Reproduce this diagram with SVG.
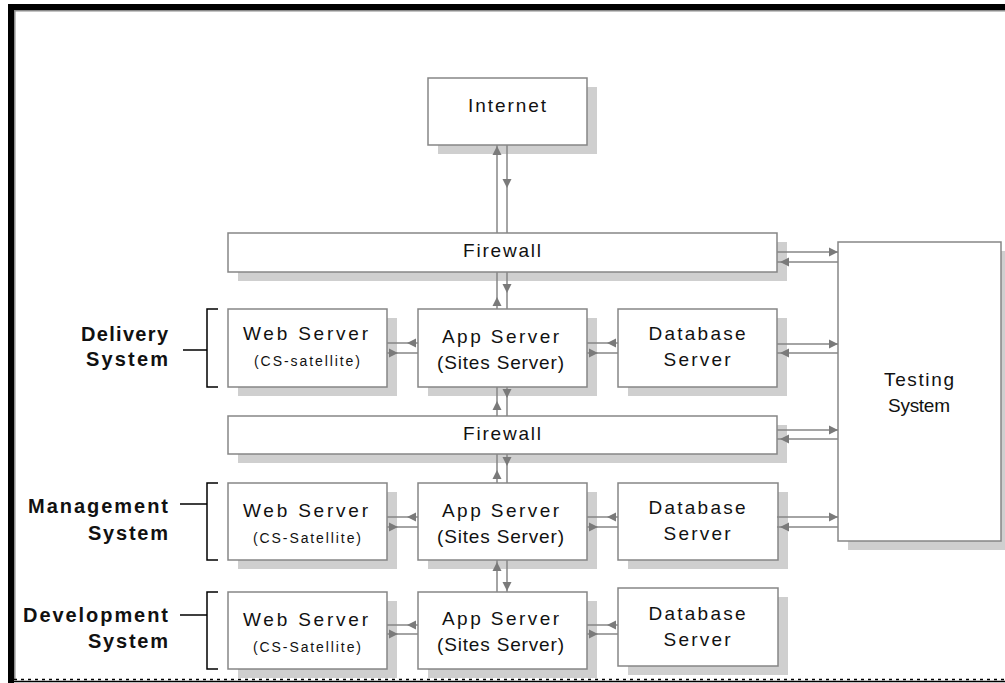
<svg xmlns="http://www.w3.org/2000/svg" xmlns:xlink="http://www.w3.org/1999/xlink" width="1005" height="683" viewBox="0 0 1005 683">
<style>
.box{fill:#fff;stroke:#868686;stroke-width:1.5}
.sh{fill:#cfcfcf}
.t{font-family:"Liberation Sans",Arial,sans-serif;font-size:19px;fill:#111;text-anchor:middle}
.s{font-family:"Liberation Sans",Arial,sans-serif;font-size:14px;fill:#111;text-anchor:middle}
.b{font-family:"Liberation Sans",Arial,sans-serif;font-size:20px;font-weight:bold;fill:#111;text-anchor:end}
.ln{stroke:#868686;stroke-width:1.5;fill:none}
.br{stroke:#000;stroke-width:1.5;fill:none}
.ah{fill:#7a7a7a}
</style>
<defs>
<path id="ah" d="M0,0 L-9,-4.5 L-9,4.5 Z"/>
</defs>
<rect width="1005" height="683" fill="#fff"/>
<g id="frame">
<rect x="8" y="4" width="997" height="6" fill="#000"/>
<rect x="8" y="4" width="6" height="679" fill="#000"/>
<line x1="14" y1="10.8" x2="1005" y2="10.8" stroke="#8a8a8a" stroke-width="1.5"/>
<line x1="14.8" y1="10" x2="14.8" y2="680" stroke="#8a8a8a" stroke-width="1.5"/>
<line x1="14" y1="681.5" x2="1005" y2="681.5" stroke="#000" stroke-width="1.5"/>
<line x1="14" y1="679.5" x2="1005" y2="679.5" stroke="#000" stroke-width="1.5" stroke-dasharray="3 4"/>
</g>
<g id="internet"><rect class="sh" x="438" y="87" width="159" height="67"/><rect class="box" x="428" y="78" width="159" height="67"/><text class="t" x="507" y="112" textLength="78" lengthAdjust="spacing">Internet</text></g>
<g id="firewall1"><rect class="sh" x="238" y="242" width="549" height="39"/><rect class="box" x="228" y="233" width="549" height="39"/><text class="t" x="502" y="257" textLength="78" lengthAdjust="spacing">Firewall</text></g>
<g id="testing"><rect class="sh" x="848" y="251" width="163" height="299"/><rect class="box" x="838" y="242" width="163" height="299"/><text class="t" x="919" y="386" textLength="70" lengthAdjust="spacing">Testing</text><text class="t" x="919" y="412" textLength="62" lengthAdjust="spacing">System</text></g>
<g id="web1"><rect class="sh" x="238" y="318" width="159" height="78"/><rect class="box" x="228" y="309" width="159" height="78"/><text class="t" x="305.5" y="340" textLength="125" lengthAdjust="spacing">Web Server</text><text class="s" x="307" y="366" textLength="106" lengthAdjust="spacing">(CS-satellite)</text></g>
<g id="app1"><rect class="sh" x="428" y="318" width="169" height="78"/><rect class="box" x="418" y="309" width="169" height="78"/><text class="t" x="500.5" y="343" textLength="117" lengthAdjust="spacing">App Server</text><text class="t" x="500.5" y="369" textLength="127" lengthAdjust="spacing">(Sites Server)</text></g>
<g id="db1"><rect class="sh" x="628" y="318" width="159" height="78"/><rect class="box" x="618" y="309" width="159" height="78"/><text class="t" x="697" y="340" textLength="97" lengthAdjust="spacing">Database</text><text class="t" x="697" y="366" textLength="67" lengthAdjust="spacing">Server</text></g>
<g id="firewall2"><rect class="sh" x="238" y="425" width="549" height="38"/><rect class="box" x="228" y="416" width="549" height="38"/><text class="t" x="502" y="440" textLength="78" lengthAdjust="spacing">Firewall</text></g>
<g id="web2"><rect class="sh" x="238" y="492" width="159" height="77"/><rect class="box" x="228" y="483" width="159" height="77"/><text class="t" x="305.5" y="517" textLength="125" lengthAdjust="spacing">Web Server</text><text class="s" x="307" y="543" textLength="108" lengthAdjust="spacing">(CS-Satellite)</text></g>
<g id="app2"><rect class="sh" x="428" y="492" width="169" height="77"/><rect class="box" x="418" y="483" width="169" height="77"/><text class="t" x="500.5" y="517" textLength="117" lengthAdjust="spacing">App Server</text><text class="t" x="500.5" y="543" textLength="127" lengthAdjust="spacing">(Sites Server)</text></g>
<g id="db2"><rect class="sh" x="628" y="492" width="160" height="77"/><rect class="box" x="618" y="483" width="160" height="77"/><text class="t" x="697" y="514" textLength="97" lengthAdjust="spacing">Database</text><text class="t" x="697" y="540" textLength="67" lengthAdjust="spacing">Server</text></g>
<g id="web3"><rect class="sh" x="238" y="601" width="159" height="77"/><rect class="box" x="228" y="592" width="159" height="77"/><text class="t" x="305.5" y="626" textLength="125" lengthAdjust="spacing">Web Server</text><text class="s" x="307" y="652" textLength="108" lengthAdjust="spacing">(CS-Satellite)</text></g>
<g id="app3"><rect class="sh" x="428" y="601" width="169" height="77"/><rect class="box" x="418" y="592" width="169" height="77"/><text class="t" x="500.5" y="625" textLength="117" lengthAdjust="spacing">App Server</text><text class="t" x="500.5" y="651" textLength="127" lengthAdjust="spacing">(Sites Server)</text></g>
<g id="db3"><rect class="sh" x="628" y="597" width="160" height="78"/><rect class="box" x="618" y="588" width="160" height="78"/><text class="t" x="697" y="620" textLength="97" lengthAdjust="spacing">Database</text><text class="t" x="697" y="646" textLength="67" lengthAdjust="spacing">Server</text></g>
<g id="connectors">
<g class="ln">
<path d="M497,145V233M507,145V233"/>
<path d="M497,272V309M507,272V309"/>
<path d="M497,387V416M507,387V416"/>
<path d="M497,454V483M507,454V483"/>
<path d="M497,560V592M507,560V592"/>
<path d="M387,343H418M387,353H418M587,343H618M587,353H618"/>
<path d="M387,517H418M387,527H418M587,517H618M587,527H618"/>
<path d="M387,625H418M387,634H418M587,625H618M587,634H618"/>
<path d="M777,252H838M777,262H838M777,344H838M777,353H838M777,430H838M777,439H838M777,517H838M777,527H838"/>
</g>
<g class="ah">
<use xlink:href="#ah" transform="translate(497,146) rotate(-90)"/>
<use xlink:href="#ah" transform="translate(507,188) rotate(90)"/>
<use xlink:href="#ah" transform="translate(507,293) rotate(90)"/>
<use xlink:href="#ah" transform="translate(497,297) rotate(-90)"/>
<use xlink:href="#ah" transform="translate(507,398) rotate(90)"/>
<use xlink:href="#ah" transform="translate(497,401) rotate(-90)"/>
<use xlink:href="#ah" transform="translate(507,466) rotate(90)"/>
<use xlink:href="#ah" transform="translate(497,470) rotate(-90)"/>
<use xlink:href="#ah" transform="translate(497,562) rotate(-90)"/>
<use xlink:href="#ah" transform="translate(507,591) rotate(90)"/>
<use xlink:href="#ah" transform="translate(407,343) rotate(180)"/>
<use xlink:href="#ah" transform="translate(398,353)"/>
<use xlink:href="#ah" transform="translate(607,343) rotate(180)"/>
<use xlink:href="#ah" transform="translate(598,353)"/>
<use xlink:href="#ah" transform="translate(407,517) rotate(180)"/>
<use xlink:href="#ah" transform="translate(398,527)"/>
<use xlink:href="#ah" transform="translate(607,517) rotate(180)"/>
<use xlink:href="#ah" transform="translate(598,527)"/>
<use xlink:href="#ah" transform="translate(407,625) rotate(180)"/>
<use xlink:href="#ah" transform="translate(398,634)"/>
<use xlink:href="#ah" transform="translate(607,625) rotate(180)"/>
<use xlink:href="#ah" transform="translate(598,634)"/>
<use xlink:href="#ah" transform="translate(838,252)"/>
<use xlink:href="#ah" transform="translate(780,262) rotate(180)"/>
<use xlink:href="#ah" transform="translate(838,344)"/>
<use xlink:href="#ah" transform="translate(780,353) rotate(180)"/>
<use xlink:href="#ah" transform="translate(838,430)"/>
<use xlink:href="#ah" transform="translate(780,439) rotate(180)"/>
<use xlink:href="#ah" transform="translate(838,517)"/>
<use xlink:href="#ah" transform="translate(780,527) rotate(180)"/>
</g>
</g>
<g id="label-delivery"><text class="b" x="168" y="341" textLength="87" lengthAdjust="spacing">Delivery</text><text class="b" x="168" y="366" textLength="82" lengthAdjust="spacing">System</text><path class="br" d="M183,350H207M218,309H207V387H218"/></g>
<g id="label-management"><text class="b" x="168" y="513" textLength="140" lengthAdjust="spacing">Management</text><text class="b" x="168" y="540" textLength="80" lengthAdjust="spacing">System</text><path class="br" d="M180,504H207M218,483H207V560H218"/></g>
<g id="label-development"><text class="b" x="168" y="622" textLength="145" lengthAdjust="spacing">Development</text><text class="b" x="168" y="648" textLength="80" lengthAdjust="spacing">System</text><path class="br" d="M180,615H207M218,592H207V669H218"/></g>
</svg>
